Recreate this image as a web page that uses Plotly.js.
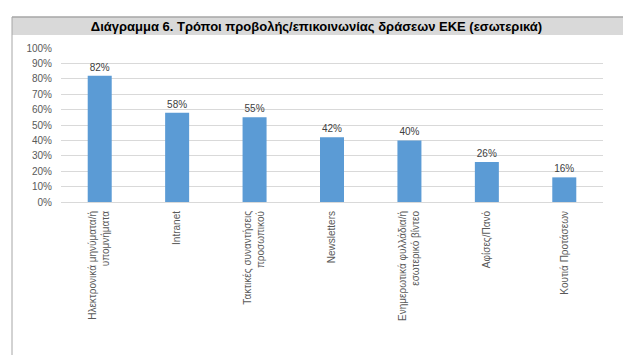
<!DOCTYPE html>
<html>
<head>
<meta charset="utf-8">
<script src="https://cdn.plot.ly/plotly-3.0.1.min.js"></script>
<style>html,body{margin:0;padding:0;background:#fff;}#chart{width:633px;height:355px;}</style>
</head>
<body>
<div id="chart"></div>
<script>
const categories = [
  "Ηλεκτρονικά μηνύματα/ή<br>υπομνήματα",
  "Intranet",
  "Τακτικές συναντήσεις<br>προσωπικού",
  "Newsletters",
  "Ενημερωτικά φυλλάδια/ή<br>εσωτερικό βίντεο",
  "Αφίσες/Πανό",
  "Κουτιά Προτάσεων"
];
const values = [82, 58, 55, 42, 40, 26, 16];
const yTickVals = [0,10,20,30,40,50,60,70,80,90,100];
const yTickText = ["0%","10%","20%","30%","40%","50%","60%","70%","80%","90%","100%"];
const chartTitle = "Διάγραμμα 6. Τρόποι προβολής/επικοινωνίας δράσεων ΕΚΕ (εσωτερικά)";

const trace = {
  type: "bar",
  x: categories,
  y: values,
  marker: {color: "#5b9bd5"},
  text: values.map(v => v + "%"),
  textposition: "outside",
  textfont: {family: "Liberation Sans, Arial, sans-serif", size: 10, color: "#404040"},
  cliponaxis: false,
  hoverinfo: "none"
};

const layout = {
  width: 633,
  height: 355,
  margin: {l: 61, r: 30, t: 48, b: 153},
  paper_bgcolor: "#ffffff",
  plot_bgcolor: "#ffffff",
  showlegend: false,
  bargap: 0.69,
  font: {family: "Liberation Sans, Arial, sans-serif", size: 10, color: "#595959"},
  title: {
    text: "<b>" + chartTitle + "</b>",
    font: {family: "Liberation Sans, Arial, sans-serif", size: 13, color: "#000000"},
    x: 0.5, xref: "container", xanchor: "center",
    y: 1 - 26/355, yref: "container", yanchor: "middle"
  },
  xaxis: {
    type: "category",
    tickangle: -90,
    showgrid: false,
    showline: true,
    linecolor: "#d9d9d9",
    linewidth: 1,
    ticks: "",
    ticklabelstandoff: 4,
    tickfont: {family: "Liberation Sans, Arial, sans-serif", size: 10, color: "#595959"},
    fixedrange: true
  },
  yaxis: {
    range: [0, 100],
    tickvals: yTickVals,
    ticktext: yTickText,
    showgrid: true,
    gridcolor: "#d9d9d9",
    gridwidth: 1,
    zeroline: false,
    showline: false,
    ticks: "",
    ticklabelstandoff: 8,
    tickfont: {family: "Liberation Sans, Arial, sans-serif", size: 10, color: "#595959"},
    fixedrange: true
  },
  shapes: [
    {type: "rect", xref: "paper", yref: "paper", x0: (12-61)/542, x1: (623-61)/542, y0: (202-35)/154, y1: (202-17)/154,
     fillcolor: "#d9d9d9", line: {width: 0}, layer: "below"},
    {type: "line", xref: "paper", yref: "paper", x0: (12-61)/542, x1: (623-61)/542, y0: (202-17)/154, y1: (202-17)/154,
     line: {color: "#a6a6a6", width: 1.5}},
    {type: "line", xref: "paper", yref: "paper", x0: (12-61)/542, x1: (12-61)/542, y0: (202-17)/154, y1: (202-356)/154,
     line: {color: "#a6a6a6", width: 1}}
  ]
};

Plotly.newPlot("chart", [trace], layout, {displayModeBar: false, staticPlot: true});
</script>
</body>
</html>
